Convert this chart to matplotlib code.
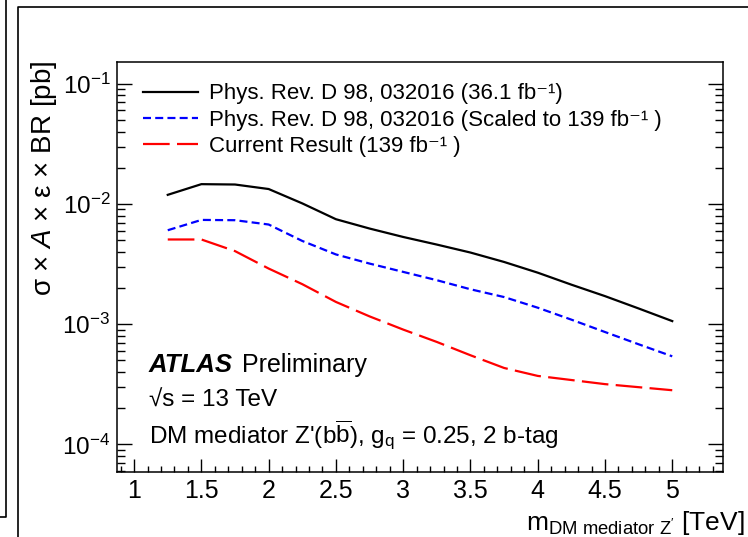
import matplotlib
matplotlib.use("Agg")
import matplotlib.pyplot as plt
from matplotlib.lines import Line2D
from matplotlib.ticker import LogLocator, MultipleLocator, NullFormatter, FuncFormatter

plt.rcParams['font.family'] = ['Liberation Sans', 'DejaVu Sans']
plt.rcParams['mathtext.fontset'] = 'custom'
plt.rcParams['mathtext.rm'] = 'Liberation Sans'
plt.rcParams['mathtext.it'] = 'Liberation Sans:italic'
plt.rcParams['mathtext.bf'] = 'Liberation Sans:bold'
plt.rcParams['mathtext.default'] = 'rm'

# Mediator mass points [TeV]
mass = [1.25, 1.5, 1.75, 2.0, 2.25, 2.5, 2.75, 3.0, 3.25, 3.5, 3.75, 4.0, 4.25, 4.5, 4.75, 5.0]

# sigma x A x eps x BR limits [pb]
prd_36fb = [0.0119, 0.0146, 0.0145, 0.0133, 0.0101, 0.00746, 0.00624, 0.00531,
            0.00459, 0.00394, 0.00329, 0.00268, 0.00213, 0.00171, 0.00135, 0.00106]
prd_scaled = [0.00604, 0.00736, 0.00732, 0.00674, 0.00492, 0.00380, 0.00319, 0.00272,
              0.00232, 0.00195, 0.00168, 0.00137, 0.00109, 0.00086, 0.00068, 0.00054]

mass_current = [1.25, 1.5, 1.75, 2.0, 2.25, 2.5, 2.75, 3.0, 3.25, 3.5, 3.75, 4.0, 4.5, 5.0]
current = [0.00506, 0.00506, 0.00405, 0.00290, 0.00215, 0.00153, 0.00116, 0.000901,
           0.000711, 0.000551, 0.000432, 0.000371, 0.000317, 0.000282]

labels = ["Phys. Rev. D 98, 032016 (36.1 fb\u207b\u00b9)",
          "Phys. Rev. D 98, 032016 (Scaled to 139 fb\u207b\u00b9 )",
          "Current Result (139 fb\u207b\u00b9 )"]

W, H = 748, 537
fig = plt.figure(figsize=(W / 100, H / 100), dpi=100)

def fx(px):
    return px / W

def fy(py):
    return 1 - py / H

ax_l, ax_r, ax_t, ax_b = 117.3, 722.7, 62.0, 472.0
ax = fig.add_axes([fx(ax_l), fy(ax_b), fx(ax_r) - fx(ax_l), (ax_b - ax_t) / H])

lw = 1.6
ax.plot(mass, prd_36fb, color='black', lw=lw, label=labels[0])
ax.plot(mass, prd_scaled, color='#0000ff', lw=lw, dashes=(3.6, 1.9), label=labels[1])
ax.plot(mass_current, current, color='#ff0000', lw=lw, dashes=(12, 3.3), label=labels[2])

ax.set_xlim(0.875, 5.375)
ax.set_yscale('log')
ax.set_ylim(5.89e-5, 0.1515)

ax.xaxis.set_major_locator(MultipleLocator(0.5))
ax.xaxis.set_minor_locator(MultipleLocator(0.1))
ax.xaxis.set_major_formatter(FuncFormatter(lambda v, p: f"{v:g}"))
ax.yaxis.set_major_locator(LogLocator(base=10, numticks=10))
ax.yaxis.set_minor_locator(LogLocator(base=10, subs=range(2, 10), numticks=20))
ax.yaxis.set_minor_formatter(NullFormatter())

for sp in ax.spines.values():
    sp.set_linewidth(1.1)

ax.tick_params(axis='both', which='both', direction='in', width=1.0, colors='black')
ax.tick_params(axis='y', which='major', length=10.8, labelsize=17.5, pad=5, right=True)
ax.tick_params(axis='y', which='minor', length=5.8, right=True)
ax.tick_params(axis='x', which='major', length=9.1, labelsize=18, pad=5, top=False)
ax.tick_params(axis='x', which='minor', length=4.6, top=False)

leg = ax.legend(loc='upper left', bbox_to_anchor=(fx(143), fy(83.5)), bbox_transform=fig.transFigure,
                frameon=False, fontsize=16, handlelength=2.48, handletextpad=0.5,
                labelspacing=0.24, borderpad=0, borderaxespad=0)

# Axis titles
fig.text(fx(44), fy(61), "\u03c3 \u00d7 $\\mathit{A}$ \u00d7 \u03b5 \u00d7 BR [pb]",
         rotation=90, ha='center', va='top', fontsize=20)
fig.text(fx(745), fy(530), r"m$_{\mathrm{DM\ mediator\ Z'}}$ [TeV]",
         ha='right', va='baseline', fontsize=19)

# Plot annotations
fig.text(fx(149), fy(372), "ATLAS", ha='left', va='baseline', fontsize=18.5,
         fontweight='bold', fontstyle='italic')
fig.text(fx(242), fy(372), "Preliminary", ha='left', va='baseline', fontsize=18)
fig.text(fx(149), fy(407), "\u221as = 13 TeV", ha='left', va='baseline', fontsize=17.5)
fig.text(fx(149), fy(443), r"DM mediator Z'(b$\overline{\mathrm{b}}$), g$_\mathrm{q}$ = 0.25, 2 b-tag",
         ha='left', va='baseline', fontsize=17.5)

# Surrounding canvas frames
fig.add_artist(Line2D([fx(0), fx(6), fx(6)], [fy(517), fy(517), fy(-5)], color='black', lw=1.2))
fig.add_artist(Line2D([fx(18.3), fx(18.3), fx(760)], [fy(545), fy(7.3), fy(7.3)], color='black', lw=1.2))

fig.savefig('out.png', dpi=100)
